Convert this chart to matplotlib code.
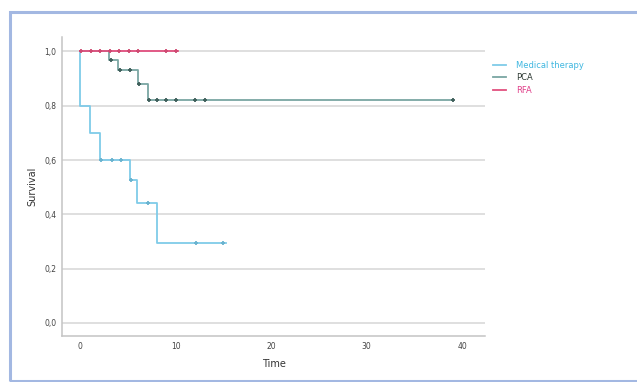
import matplotlib.pyplot as plt
import numpy as np
from matplotlib.patches import Rectangle

# Kaplan-Meier steps: event times and survival right after each event
mt_time = [0, 0, 1.0, 2.1, 5.2, 6.0, 8.1, 15.3]
mt_surv = [1.0, 0.8, 0.7, 0.6, 0.525, 0.44, 0.295, 0.295]
mt_censor = [2.2, 3.3, 4.3, 5.3, 7.1, 12.1, 15.0]

pca_time = [0, 3.0, 4.0, 6.1, 7.1, 39.0]
pca_surv = [1.0, 0.97, 0.93, 0.88, 0.82, 0.82]
pca_censor = [3.2, 4.2, 5.2, 6.2, 7.2, 8.0, 9.0, 10.0, 12.0, 13.1, 39.0]

rfa_time = [0, 10.3]
rfa_surv = [1.0, 1.0]
rfa_censor = [0.1, 1.1, 2.1, 3.1, 4.1, 5.1, 6.1, 9.0, 10.0]

groups = ['Medical therapy', 'PCA', 'RFA']
line_colors = ['#7fcbe8', '#7aa6a3', '#e2507f']
mark_colors = ['#6ab3cf', '#3f5f5b', '#cf4a72']
text_colors = ['#3fb7e0', '#2e3a33', '#e0408a']

x_ticks = [0, 10, 20, 30, 40]
y_ticks = [0.0, 0.2, 0.4, 0.6, 0.8, 1.0]


def surv_at(times, surv, t):
    idx = np.searchsorted(times, t, side='right') - 1
    return np.array(surv)[idx]


fig = plt.figure(figsize=(6.37, 3.82), dpi=100)
fig.patches.append(Rectangle((10 / 637, 1 / 382), 640 / 637, 369 / 382,
                             transform=fig.transFigure, fill=False,
                             edgecolor='#a3b8e2', linewidth=2.2))

ax = fig.add_axes([62 / 637, 46 / 382, 423 / 637, 299 / 382])

series = [(mt_time, mt_surv, mt_censor),
          (pca_time, pca_surv, pca_censor),
          (rfa_time, rfa_surv, rfa_censor)]

handles = []
for (t, s, c), name, lc, mc in zip(series, groups, line_colors, mark_colors):
    h, = ax.step(t, s, where='post', color=lc, linewidth=1.3, label=name)
    handles.append(h)
    ax.plot(c, surv_at(t, s, c), linestyle='none', marker='+',
            markersize=3.5, markeredgewidth=1.3, color=mc)

ax.set_xlim(-1.9, 42.4)
ax.set_ylim(-0.048, 1.053)
ax.set_xticks(x_ticks)
ax.set_yticks(y_ticks)
ax.set_yticklabels([f'{v:.1f}'.replace('.', ',') for v in y_ticks])
ax.tick_params(length=0, labelsize=5.5, colors='#444444', pad=4)
ax.yaxis.grid(True, color='#d6d6d6', linewidth=1.1)
ax.set_axisbelow(True)
for side in ['top', 'right']:
    ax.spines[side].set_visible(False)
for side in ['left', 'bottom']:
    ax.spines[side].set_color('#c4c4c4')
    ax.spines[side].set_linewidth(1.1)

ax.set_xlabel('Time', fontsize=7, color='#333333', labelpad=6)
ax.set_ylabel('Survival', fontsize=7, color='#333333', labelpad=5)

ax.legend(handles=handles, labels=groups, loc='upper left',
          bbox_to_anchor=(1.0, 0.945), frameon=False, fontsize=6,
          handlelength=1.6, handletextpad=1.2, labelspacing=0.4,
          labelcolor=text_colors)

fig.savefig('out.png', dpi=100)
